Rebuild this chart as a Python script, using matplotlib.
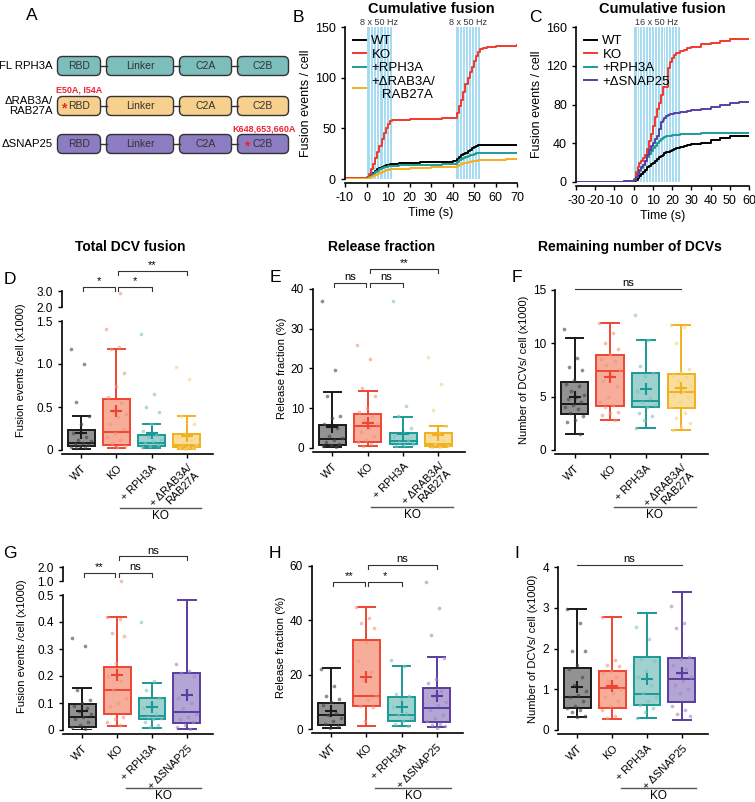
import numpy as np
import matplotlib
matplotlib.use("Agg")
import matplotlib.pyplot as plt
from matplotlib.patches import FancyBboxPatch
from matplotlib import transforms

plt.rcParams['font.family'] = ['Liberation Sans', 'DejaVu Sans']
plt.rcParams['axes.linewidth'] = 1.2
plt.rcParams['axes.unicode_minus'] = False

W, H = 755, 802

# ---------------- data ----------------
# panel B: cumulative fusion, 2 x (8 x 50 Hz)
t_B = [-10, -5, 0, 1, 2, 3, 4, 5, 6, 7, 8, 9, 10, 11, 12, 15, 20, 25, 30, 35, 40,
       42, 43, 44, 45, 46, 47, 48, 49, 50, 51, 52, 53, 54, 56, 60, 65, 70]
B_wt = [0, 0, 1, 2, 4, 6, 8, 10, 11, 12, 13, 14, 14, 15, 15, 16, 16, 17, 17, 17, 18,
        20, 22, 24, 25, 26, 28, 29, 31, 32, 33, 34, 34, 34, 34, 34, 34, 34]
B_ko = [1, 1, 2, 5, 10, 15, 21, 27, 33, 39, 45, 50, 54, 57, 58, 58, 59, 59, 59, 60, 60,
        65, 72, 78, 86, 94, 100, 106, 111, 116, 121, 125, 128, 129, 130, 131, 131, 132]
B_rph = [0, 0, 1, 2, 3, 5, 7, 8, 10, 11, 12, 12, 13, 13, 13, 14, 14, 14, 14, 15, 15,
         17, 19, 20, 21, 22, 23, 24, 24, 25, 26, 26, 26, 26, 26, 26, 26, 26]
B_rab = [0, 0, 0, 1, 2, 3, 4, 5, 6, 7, 8, 9, 9, 10, 10, 10, 11, 11, 12, 12, 12,
         13, 14, 15, 16, 16, 17, 17, 18, 18, 18, 19, 19, 19, 19, 19, 20, 20]
stim_B = [(0, 12), (41.5, 53)]

# panel C: cumulative fusion, 16 x 50 Hz
t_C = [-30, -20, -10, -5, 0, 1, 2, 3, 4, 5, 6, 7, 8, 9, 10, 11, 12, 13, 14, 15, 16, 17,
       18, 19, 20, 21, 22, 24, 26, 28, 30, 35, 40, 45, 50, 55, 60]
C_wt = [0, 0, 0, 0, 1, 2, 4, 6, 8, 10, 12, 15, 17, 19, 20, 22, 24, 26, 27, 28, 30, 31,
        31, 32, 33, 34, 35, 36, 37, 38, 39, 40, 43, 45, 47, 47, 47]
C_ko = [0, 0, 0, 1, 3, 10, 15, 20, 22, 25, 28, 34, 42, 50, 58, 67, 75, 82, 90, 98, 98, 98,
        118, 124, 128, 131, 133, 135, 136, 138, 139, 142, 144, 146, 148, 148, 148]
C_rph = [0, 0, 0, 0, 2, 5, 8, 11, 14, 18, 22, 26, 29, 32, 35, 37, 40, 42, 44, 45, 46, 47,
         48, 48, 49, 49, 49, 50, 50, 50, 50, 51, 51, 51, 51, 51, 51]
C_snap = [0, 0, 0, 1, 2, 5, 8, 12, 15, 18, 22, 28, 33, 37, 40, 44, 48, 55, 62, 64, 66, 68,
          69, 70, 70, 71, 71, 72, 72, 73, 74, 75, 77, 79, 82, 83, 83]
stim_C = [(0, 24)]

groups_top = ['WT', 'KO', '+ RPH3A', '+ ΔRAB3A/\nRAB27A']
groups_bot = ['WT', 'KO', '+ RPH3A', '+ ΔSNAP25']

# box stats: (whislo, q1, med, q3, whishi, mean)
D_stats = [(0.01, 0.046, 0.077, 0.23, 0.40, 0.20),
           (0.02, 0.06, 0.21, 0.59, 1.18, 0.45),
           (0.02, 0.05, 0.08, 0.18, 0.30, 0.20),
           (0.01, 0.03, 0.06, 0.19, 0.40, 0.16)]
D_pts = [[1.18, 1.0, 0.56, 0.4, 0.3, 0.2, 0.15, 0.12, 0.1, 0.08, 0.07, 0.06, 0.05, 0.04, 0.03, 0.02],
         [2.9, 1.41, 1.2, 1.18, 0.9, 0.75, 0.62, 0.55, 0.45, 0.42, 0.38, 0.3, 0.25, 0.2, 0.15,
          0.12, 0.08, 0.05, 0.03],
         [1.35, 0.65, 0.5, 0.44, 0.3, 0.22, 0.18, 0.15, 0.12, 0.1, 0.08, 0.06, 0.05, 0.03],
         [0.96, 0.83, 0.4, 0.3, 0.2, 0.15, 0.1, 0.08, 0.06, 0.04, 0.03, 0.02, 0.01]]

E_stats = [(0.2, 0.8, 2.3, 5.9, 14.1, 5.3),
           (0.4, 1.5, 5.6, 8.6, 14.4, 6.4),
           (0.2, 1.1, 1.8, 3.8, 7.9, 3.5),
           (0.0, 0.4, 1.1, 3.7, 5.6, 3.3)]
E_pts = [[37, 19.5, 13, 8, 7.5, 6, 5, 3, 2.5, 2, 1.5, 1, 0.8, 0.5, 0.3],
         [25.8, 22.5, 15, 13, 10, 9, 8, 7, 6, 5, 4, 3, 2, 1.5, 1, 0.5],
         [37, 10.5, 8, 5, 4, 3, 2, 1.5, 1, 0.8, 0.5],
         [23, 16, 9.6, 5.5, 4, 3, 2, 1, 0.5, 0.2, 0]]

F_stats = [(1.5, 3.4, 4.3, 6.4, 10.5, 5.0),
           (2.8, 4.1, 7.4, 8.9, 11.9, 6.8),
           (2.1, 4.0, 4.6, 7.2, 10.3, 5.7),
           (1.9, 3.9, 5.4, 7.1, 11.7, 5.8)]
F_pts = [[11.3, 8.6, 7.8, 7.5, 6.6, 6.2, 6, 5.5, 5.2, 5, 4.8, 4.5, 4.2, 4, 3.8, 3.5, 3.2, 2.8, 2.6, 1.5],
         [11.9, 11, 10, 9.5, 9, 8.5, 8.3, 8, 7.5, 7, 6.5, 6, 5, 4.5, 4.2, 4, 3.6, 3.5, 3.3, 2.8],
         [12.7, 10.3, 7.9, 7.2, 6.9, 5.5, 4.9, 4.5, 4.2, 4.0, 3.5, 3.2, 2.8, 2.1],
         [11.7, 11.5, 10, 7.6, 7.3, 7, 6.8, 6.5, 6, 5.5, 5.2, 5, 4.5, 4, 3.5, 3, 2.5, 2.2, 1.9]]

G_stats = [(0.0, 0.012, 0.049, 0.095, 0.154, 0.07),
           (0.015, 0.06, 0.15, 0.235, 0.42, 0.205),
           (0.008, 0.04, 0.053, 0.118, 0.175, 0.086),
           (0.004, 0.025, 0.065, 0.21, 0.48, 0.13)]
G_pts = [[0.34, 0.31, 0.15, 0.11, 0.1, 0.09, 0.08, 0.07, 0.06, 0.05, 0.04, 0.03, 0.02, 0.01, 0.005],
         [1.02, 0.42, 0.41, 0.36, 0.35, 0.25, 0.2, 0.18, 0.15, 0.12, 0.1, 0.09, 0.05, 0.04, 0.03, 0.02],
         [0.40, 0.18, 0.15, 0.12, 0.1, 0.08, 0.06, 0.05, 0.045, 0.04, 0.03, 0.02, 0.01],
         [0.245, 0.22, 0.21, 0.2, 0.15, 0.12, 0.1, 0.08, 0.06, 0.05, 0.04, 0.03, 0.02, 0.01, 0.005]]

H_stats = [(0.4, 1.3, 5.3, 9.5, 22.4, 6.7),
           (1.2, 8.6, 12.2, 32.8, 45, 19.1),
           (1.2, 3.1, 5.0, 11.8, 23.2, 8.1),
           (0.6, 2.6, 7.7, 15, 26.4, 12)]
H_pts = [[22, 16, 12, 11, 10, 9, 6, 5, 4, 3, 2, 1, 0.5],
         [45, 41, 39, 37, 32, 25, 21, 18, 12, 10.5, 8.5, 8, 3],
         [25.5, 23.3, 13, 12, 11, 8, 6, 5, 4, 3, 2, 1.2],
         [54, 44.7, 34.5, 26, 18.5, 17, 14, 12, 10, 9, 7, 5, 4, 3, 2, 1.5, 1, 0.5]]

I_stats = [(0.31, 0.53, 0.82, 1.53, 2.96, 1.06),
           (0.27, 0.55, 1.02, 1.45, 2.78, 1.08),
           (0.30, 0.61, 0.89, 1.78, 2.86, 1.25),
           (0.24, 0.68, 1.25, 1.77, 3.38, 1.41)]
I_pts = [[2.96, 2.62, 1.95, 1.93, 1.6, 1.5, 1.3, 1.1, 0.95, 0.85, 0.8, 0.7, 0.6, 0.55, 0.5, 0.45, 0.35, 0.31],
         [2.77, 1.73, 1.6, 1.57, 1.45, 1.4, 1.3, 1.2, 1.0, 0.9, 0.8, 0.7, 0.6, 0.5, 0.35, 0.3],
         [2.53, 2.24, 1.75, 1.7, 1.45, 1.3, 1.1, 0.9, 0.8, 0.7, 0.62, 0.55, 0.45, 0.3],
         [3.04, 2.62, 2.5, 1.8, 1.75, 1.6, 1.5, 1.4, 1.3, 1.2, 1.1, 1.0, 0.9, 0.6, 0.5, 0.4, 0.35]]

# colours (edge, fill)
c_wt = ('#1a1a1a', '#6e6e6e')
c_ko = ('#EF4433', '#F49378')
c_rph = ('#1A9A96', '#7FC2BE')
c_rab = ('#F2B01E', '#F6D27C')
c_snap = ('#5A3C9E', '#9A88C8')
line_cols = {'wt': 'black', 'ko': '#F03A2C', 'rph': '#1E9C96', 'rab': '#F4B020', 'snap': '#5A3FA5'}

fig = plt.figure(figsize=(W / 100, H / 100), dpi=100)


def px_axes(l, t, r, b):
    return fig.add_axes([l / W, 1 - b / H, (r - l) / W, (b - t) / H])


def fig_label(x, y, s, **kw):
    fig.text(x / W, 1 - y / H, s, **kw)


def style(ax, size=8.5):
    for s in ['top', 'right']:
        ax.spines[s].set_visible(False)
    ax.tick_params(direction='out', length=3, width=1, labelsize=size)


# ---------------- panel A ----------------
axA = px_axes(0, 30, 300, 175)
axA.set_xlim(0, 300)
axA.set_ylim(175, 30)
axA.axis('off')
rows = ['FL RPH3A', 'ΔRAB3A/\nRAB27A', 'ΔSNAP25']
row_fill = ['#7CBEBB', '#F6D08C', '#8C7CC1']
domains = ['RBD', 'Linker', 'C2A', 'C2B']
dom_x = [(59, 99), (108, 172), (181, 230), (239, 287)]
row_y = [66, 106, 144]
for r, (name, fc, yc) in enumerate(zip(rows, row_fill, row_y)):
    for k, (dn, (x0, x1)) in enumerate(zip(domains, dom_x)):
        axA.add_patch(FancyBboxPatch((x0, yc - 8), x1 - x0, 16,
                                     boxstyle='round,pad=1.5,rounding_size=5',
                                     fc=fc, ec='#333333', lw=1))
        axA.text((x0 + x1) / 2, yc, dn, ha='center', va='center', fontsize=7.5, color='#333333')
        if k < 3:
            axA.plot([x1 + 1.5, dom_x[k + 1][0] - 1.5], [yc, yc], color='#333333', lw=1)
    axA.text(53, yc, name, ha='right', va='center', fontsize=8.2, linespacing=1.1)
axA.text(56, 90, 'E50A, I54A', color='#EE2233', fontsize=6.5, fontweight='bold', va='center')
axA.text(232, 129, 'K648,653,660A', color='#EE2233', fontsize=6.5, fontweight='bold', va='center')
axA.text(64, 108, '*', color='#EE2233', fontsize=10, ha='center', va='center', fontweight='bold')
axA.text(247, 146, '*', color='#EE2233', fontsize=10, ha='center', va='center', fontweight='bold')


# ---------------- cumulative panels ----------------
def cum_panel(ax, t, series, stims, labels, stim_text, xlim, xticks, yticks):
    style(ax, 9)
    ax.spines['bottom'].set_position(('outward', 3))
    for (a, b), txt in zip(stims, stim_text):
        ax.axvspan(a, b, color='#A4DBF2', lw=0, zorder=0)
        n = int(txt.split(' x')[0])
        for e in np.linspace(a, b, n + 1)[1:-1]:
            ax.axvline(e, color='white', lw=0.8, zorder=0.5)
        ax.text((a + b) / 2, yticks[-1], txt, ha='center', va='bottom', fontsize=6.5, color='#333333')
    for (vals, col), lab in zip(series, labels):
        ax.plot(t, vals, drawstyle='steps-post', color=col, lw=1.4, label=lab)
    ax.set_xlim(*xlim)
    ax.set_ylim(yticks[0], yticks[-1])
    ax.set_xticks(xticks)
    ax.set_yticks(yticks)
    ax.set_xlabel('Time (s)', fontsize=9, labelpad=2)
    ax.set_ylabel('Fusion events / cell', fontsize=9, labelpad=2)
    ax.set_title('Cumulative fusion', fontsize=10.5, fontweight='bold', pad=10)
    ax.legend(loc='upper left', bbox_to_anchor=(0.0, 1.0), frameon=False, fontsize=9.5,
              handlelength=1.0, handletextpad=0.4, labelspacing=0.1, borderaxespad=0.2)


axB = px_axes(345, 27, 517, 179)
cum_panel(axB, t_B,
          [(B_wt, line_cols['wt']), (B_ko, line_cols['ko']), (B_rph, line_cols['rph']), (B_rab, line_cols['rab'])],
          stim_B, ['WT', 'KO', '+RPH3A', '+ΔRAB3A/\n   RAB27A'], ['8 x 50 Hz', '8 x 50 Hz'],
          (-10, 70), range(-10, 71, 10), [0, 50, 100, 150])

axC = px_axes(576, 27, 749, 182)
cum_panel(axC, t_C,
          [(C_wt, line_cols['wt']), (C_ko, line_cols['ko']), (C_rph, line_cols['rph']), (C_snap, line_cols['snap'])],
          stim_C, ['WT', 'KO', '+RPH3A', '+ΔSNAP25'], ['16 x 50 Hz'],
          (-30, 60), range(-30, 61, 10), [0, 40, 80, 120, 160])


# ---------------- box panels ----------------
def bracket(ax, x1, x2, y_px, text, drop=4, legs=True):
    tr = transforms.blended_transform_factory(ax.transData, fig.transFigure)
    y = 1 - y_px / H
    yd = 1 - (y_px + drop) / H
    if legs:
        ax.plot([x1, x1, x2, x2], [yd, y, y, yd], transform=tr, color='#333333', lw=0.8, clip_on=False)
    else:
        ax.plot([x1, x2], [y, y], transform=tr, color='#333333', lw=0.8, clip_on=False)
    ax.text((x1 + x2) / 2, y + 0.5 / H, text, transform=tr, ha='center', va='bottom', fontsize=8)


def draw_boxes(ax, stats, pts, cols, cap=None):
    for i, (st, p, (ec, fc)) in enumerate(zip(stats, pts, cols)):
        pos = i + 1
        lo, q1, med, q3, hi, mean = st
        d = dict(whislo=lo, q1=q1, med=med, q3=q3, whishi=hi, fliers=[])
        ax.bxp([d], positions=[pos], widths=0.77, patch_artist=True, showfliers=False,
               boxprops=dict(facecolor=matplotlib.colors.to_rgba(fc, 0.75), edgecolor=ec, lw=1.4),
               medianprops=dict(color=ec, lw=1.4),
               whiskerprops=dict(color=ec, lw=1.4),
               capprops=dict(color=ec, lw=1.4), capwidths=0.5)
        p = np.asarray(p, float)
        if cap is not None:
            p = p[p <= cap]
        jit = ((np.arange(len(p)) * 0.618) % 1 - 0.5) * 0.6
        dot_c = '#444444' if i == 0 else fc
        ax.scatter(pos + jit, p, s=7, color=dot_c, alpha=0.6, lw=0, zorder=3)
        ax.plot(pos, mean, marker='+', ms=8, mew=1.5, color=ec, zorder=4)


def box_panel(px, stats, pts, cols, names, ylim, yticks, yticklabels, ylabel, cap=None):
    ax = px_axes(*px)
    style(ax)
    ax.spines['bottom'].set_position(('outward', 3))
    draw_boxes(ax, stats, pts, cols, cap)
    ax.set_xlim(0.45, 4.75)
    ax.set_ylim(*ylim)
    ax.set_yticks(yticks)
    ax.set_yticklabels(yticklabels)
    ax.set_xticks([1, 2, 3, 4])
    ax.set_xticklabels(names, rotation=45, ha='right', rotation_mode='anchor', fontsize=7.8,
                       linespacing=1.0)
    ax.set_ylabel(ylabel, fontsize=8, labelpad=3)
    return ax


def ko_group(ax, x1, x2, y_px):
    tr = transforms.blended_transform_factory(ax.transData, fig.transFigure)
    ax.plot([x1, x2], [1 - y_px / H] * 2, transform=tr, color='#555555', lw=1, clip_on=False)
    ax.text((x1 + x2) / 2, 1 - (y_px + 2) / H, 'KO', transform=tr, ha='center', va='top', fontsize=8.5)


def top_break(ax, px, ylim, ticks, pts, cap):
    axt = px_axes(*px)
    style(axt)
    axt.spines['bottom'].set_visible(False)
    axt.set_xlim(ax.get_xlim())
    axt.set_xticks([])
    axt.set_ylim(*ylim)
    axt.set_yticks(ticks)
    axt.set_yticklabels(['%.1f' % v for v in ticks])
    axt.patch.set_alpha(0)
    for i, (p, fc) in enumerate(zip(pts, [c_wt[1], c_ko[1], c_rph[1], c_rab[1]])):
        p = np.asarray(p, float)
        p = p[p > cap]
        axt.scatter(np.full(len(p), i + 1.1), p, s=7, color=fc, alpha=0.6, lw=0, clip_on=False)
    return axt


top_cols = [c_wt, c_ko, c_rph, c_rab]
bot_cols = [c_wt, c_ko, c_rph, c_snap]

# D
axD = box_panel((62, 321, 213, 450), D_stats, D_pts, top_cols, groups_top, (0, 1.5),
                [0, 0.5, 1.0, 1.5], ['0', '0.5', '1.0', '1.5'], 'Fusion events /cell (x1000)', cap=1.5)
top_break(axD, (62, 291, 213, 307), (2.0, 3.0), [2.0, 3.0], D_pts, 1.5)
axD.yaxis.set_label_coords(-0.24, 0.62)
bracket(axD, 1.05, 1.95, 287, '*')
bracket(axD, 2.05, 3.0, 287, '*')
bracket(axD, 2.05, 4.0, 271, '**')
ko_group(axD, 2.1, 4.4, 508)
fig_label(130, 247, 'Total DCV fusion', ha='center', va='center', fontsize=10, fontweight='bold')

# E
axE = box_panel((313, 289, 465, 448), E_stats, E_pts, top_cols, groups_top, (0, 40),
                [0, 10, 20, 30, 40], ['0', '10', '20', '30', '40'], 'Release fraction (%)')
bracket(axE, 1.05, 1.95, 283, 'ns')
bracket(axE, 2.05, 3.0, 283, 'ns')
bracket(axE, 2.05, 4.0, 269, '**')
ko_group(axE, 2.1, 4.4, 507)
fig_label(382, 247, 'Release fraction', ha='center', va='center', fontsize=10, fontweight='bold')

# F
axF = box_panel((555, 290, 708, 450), F_stats, F_pts, top_cols, groups_top, (0, 15),
                [0, 5, 10, 15], ['0', '5', '10', '15'], 'Number of DCVs/ cell (x1000)')
bracket(axF, 1.0, 4.0, 289, 'ns', legs=False)
ko_group(axF, 2.1, 4.4, 507)
fig_label(630, 247, 'Remaining number of DCVs', ha='center', va='center', fontsize=10, fontweight='bold')

# G
axG = box_panel((63, 595, 213, 730), G_stats, G_pts, bot_cols, groups_bot, (0, 0.5),
                [0, 0.1, 0.2, 0.3, 0.4, 0.5], ['0', '0.1', '0.2', '0.3', '0.4', '0.5'],
                'Fusion events /cell (x1000)', cap=0.5)
top_break(axG, (63, 567, 213, 581), (1.0, 2.0), [1.0, 2.0], G_pts, 0.5)
axG.yaxis.set_label_coords(-0.24, 0.62)
bracket(axG, 1.05, 1.95, 573, '**')
bracket(axG, 2.05, 3.0, 573, 'ns')
bracket(axG, 2.05, 4.0, 556, 'ns')
ko_group(axG, 2.25, 4.4, 788)

# H
axH = box_panel((312, 566, 463, 729), H_stats, H_pts, bot_cols, groups_bot, (0, 60),
                [0, 20, 40, 60], ['0', '20', '40', '60'], 'Release fraction (%)')
bracket(axH, 1.05, 1.95, 582, '**')
bracket(axH, 2.05, 3.0, 582, '*')
bracket(axH, 2.05, 4.0, 565, 'ns')
ko_group(axH, 2.25, 4.4, 788)

# I
axI = box_panel((558, 567, 708, 730), I_stats, I_pts, bot_cols, groups_bot, (0, 4),
                [0, 1, 2, 3, 4], ['0', '1', '2', '3', '4'], 'Number of DCVs/ cell (x1000)')
bracket(axI, 1.0, 4.0, 565, 'ns', legs=False)
ko_group(axI, 2.25, 4.4, 788)

# panel letters
for s, x, y in [('A', 32, 16), ('B', 298, 17), ('C', 535, 17), ('D', 10, 280), ('E', 275, 277),
                ('F', 517, 277), ('G', 10, 553), ('H', 275, 553), ('I', 517, 553)]:
    fig_label(x, y, s, ha='center', va='center', fontsize=12.5)

fig.savefig('out.png', dpi=100)
